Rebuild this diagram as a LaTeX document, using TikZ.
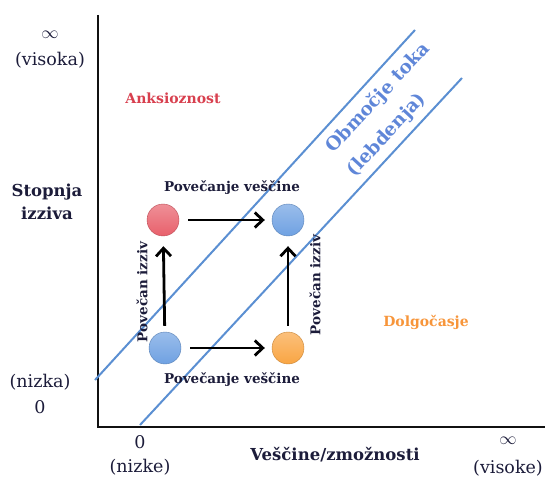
\documentclass[tikz,border=0pt]{standalone}
\usepackage{fontspec}
\setmainfont{DejaVu Serif}
\usetikzlibrary{
  arrows.meta,
  positioning,
  calc
}
\definecolor{flAxis}{HTML}{111111}
\definecolor{flLine}{HTML}{5B8FD2}
\definecolor{flText}{HTML}{1C1C3A}
\definecolor{flRed}{HTML}{E8606B}
\definecolor{flBlue}{HTML}{6FA1E2}
\definecolor{flOrange}{HTML}{F9A543}
\definecolor{flAnx}{HTML}{D8404F}
\definecolor{flBore}{HTML}{F7953A}
\definecolor{flZone}{HTML}{5F86D8}
\tikzset{
  axis/.style={line width=2.6pt, flAxis},
  channel/.style={line width=2pt, flLine},
  state/.style={
    circle, minimum size=32pt, inner sep=0pt, draw=#1!80!black, line width=0.4pt,
    top color=#1!70!white, bottom color=#1
  },
  move/.style={-{Straight Barb[length=8pt, width=15pt]}, line width=2.8pt, black},
  steplabel/.style={font=\fontsize{13.5}{16}\selectfont\bfseries, text=flText, inner sep=1pt},
  axislabel/.style={font=\fontsize{17.5}{24}\selectfont, text=flText, align=center, inner sep=1pt},
  axistitle/.style={font=\fontsize{16.5}{23}\selectfont\bfseries, text=flText, align=center, inner sep=1pt},
  region/.style={font=\fontsize{14}{17}\selectfont\bfseries, inner sep=1pt},
  zonetext/.style={font=\fontsize{18.5}{22}\selectfont\bfseries, text=flZone, rotate=47, inner sep=0pt}
}

\begin{document}
\begin{tikzpicture}[x=1pt, y=-1pt]
  \useasboundingbox (0,0) rectangle (546,481);
  % axes
  \coordinate (ytop) at (98,15);
  \coordinate (origin) at (98,427);
  \coordinate (xend) at (545,427);
  \draw[axis] (ytop) -- (origin) -- (xend);
  % flow channel
  \coordinate (upA) at (95,380);
  \coordinate (upB) at (415,30);
  \coordinate (loA) at (140,425);
  \coordinate (loB) at (462,78);
  \draw[channel] (upA) -- (upB);
  \draw[channel] (loA) -- (loB);
  % states
  \node[state=flRed] (anx) at (163,220) {};
  \node[state=flBlue] (flowhi) at (288,220) {};
  \node[state=flBlue] (flowlo) at (165,348) {};
  \node[state=flOrange] (bore) at (288,348) {};
  \draw[move, shorten <=9pt, shorten >=7pt] (anx) -- (flowhi);
  \draw[move, shorten <=9pt, shorten >=7pt] (flowlo) -- (bore);
  \draw[move, shorten <=6pt, shorten >=10pt] (flowlo) -- (anx);
  \draw[move, shorten <=6pt, shorten >=10pt] (bore) -- (flowhi);
  \node[steplabel] (skillup) at (232,188) {Povečanje veščine};
  \node[steplabel] (skilllo) at (232,380) {Povečanje veščine};
  \node[steplabel, rotate=90] (chall) at (142,292) {Povečan izziv};
  \node[steplabel, rotate=90] (chalr) at (315,285) {Povečan izziv};
  % regions
  \node[region, text=flAnx] (anxiety) at (173,98) {Anksioznost};
  \node[region, text=flBore] (boredom) at (426,322) {Dolgočasje};
  \node[zonetext] (zone) at (378,98) {Območje toka};
  \node[zonetext] (zonealt) at (387,135) {(lebdenja)};
  % axis labels
  \node[axislabel] (yinf) at (50,35) {$\infty$};
  \node[axislabel] (yhigh) at (50,60) {(visoka)};
  \node[axislabel] (ylow) at (40,382) {(nizka)};
  \node[axislabel] (yzero) at (40,407) {0};
  \node[axistitle] (ytitle) at (47,202) {Stopnja\\izziva};
  \node[axislabel] (xzero) at (140,442) {0};
  \node[axislabel] (xlow) at (140,467) {(nizke)};
  \node[axislabel] (xinf) at (508,441) {$\infty$};
  \node[axislabel] (xhigh) at (508,468) {(visoke)};
  \node[axistitle] (xtitle) at (335,455) {Veščine/zmožnosti};
\end{tikzpicture}
\end{document}
